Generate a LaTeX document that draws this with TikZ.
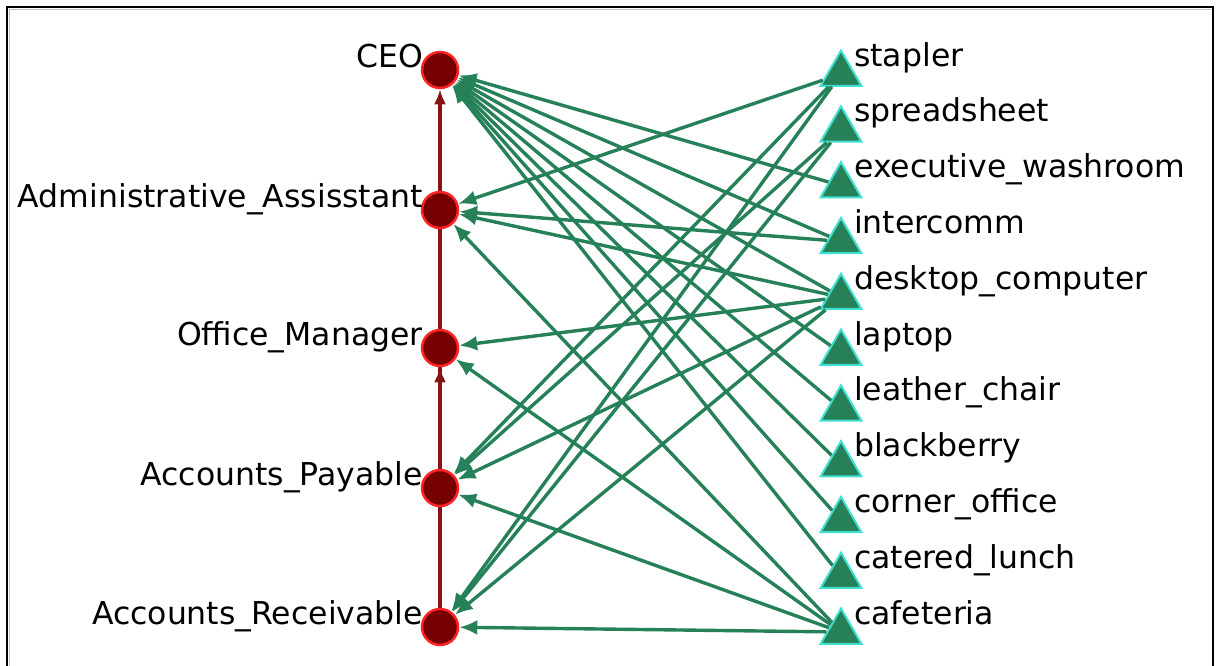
\documentclass[tikz,border=0pt]{standalone}
\usepackage{fontspec}
\setmainfont{DejaVu Sans}
\usetikzlibrary{arrows.meta, shapes.geometric, backgrounds}
\definecolor{edgegreen}{RGB}{38,128,88}
\definecolor{tricyan}{RGB}{64,224,208}
\definecolor{agentfill}{RGB}{118,0,0}
\definecolor{agentline}{RGB}{255,35,35}
\definecolor{reportred}{RGB}{135,20,20}

\begin{document}
\begin{tikzpicture}[x=1pt, y=-1pt,
    every node/.style={font=\fontsize{31.5}{36}\selectfont},
    agent/.style={circle, draw=agentline, fill=agentfill, line width=2.5pt,
                  minimum size=36pt, inner sep=0pt},
    resource/.style={regular polygon, regular polygon sides=3, draw=tricyan,
                     fill=edgegreen, line width=2pt, minimum size=47pt, inner sep=0pt},
    agentlabel/.style={anchor=base east, inner sep=0pt},
    resourcelabel/.style={anchor=base west, inner sep=0pt},
    accessedge/.style={draw=edgegreen, line width=3.4pt, -{Latex[length=18pt, width=15pt]}},
    reportedge/.style={draw=reportred, line width=3.4pt, -{Latex[length=15pt, width=12pt]}}]
  \useasboundingbox (0,0) rectangle (1216,665);
  % frame
  \draw[line width=2pt] (7,670) -- (7,7) -- (1213,7) -- (1213,670);
  \draw[gray!50, line width=1pt] (9.5,670) -- (9.5,9.5) -- (1211,9.5);
  % agents
  \node[agent] (ceo) at (440,70) {};
  \node[agent] (admin) at (440,210) {};
  \node[agent] (om) at (440,348) {};
  \node[agent] (ap) at (440,488) {};
  \node[agent] (ar) at (440,627) {};
  \node[agentlabel] (ceotext) at ([shift={(-17pt,3pt)}]ceo.center) {CEO};
  \node[agentlabel] (admintext) at ([shift={(-17pt,3pt)}]admin.center) {Administrative\_Assisstant};
  \node[agentlabel] (omtext) at ([shift={(-17pt,3pt)}]om.center) {Office\_Manager};
  \node[agentlabel] (aptext) at ([shift={(-17pt,3pt)}]ap.center) {Accounts\_Payable};
  \node[agentlabel] (artext) at ([shift={(-17pt,3pt)}]ar.center) {Accounts\_Receivable};
  % resources
  \node[resource] (stapler) at (841,74) {};
  \node[resource] (sheet) at (841,129.8) {};
  \node[resource] (washroom) at (841,185.6) {};
  \node[resource] (intercomm) at (841,241.4) {};
  \node[resource] (desktop) at (841,297.2) {};
  \node[resource] (laptop) at (841,353) {};
  \node[resource] (chair) at (841,408.8) {};
  \node[resource] (blackberry) at (841,464.6) {};
  \node[resource] (corner) at (841,520.4) {};
  \node[resource] (lunch) at (841,576.2) {};
  \node[resource] (cafeteria) at (841,632) {};
  \node[resourcelabel] (staplertext) at ([shift={(13pt,8pt)}]stapler.center) {stapler};
  \node[resourcelabel] (sheettext) at ([shift={(13pt,8pt)}]sheet.center) {spreadsheet};
  \node[resourcelabel] (washroomtext) at ([shift={(13pt,8pt)}]washroom.center) {executive\_washroom};
  \node[resourcelabel] (intercommtext) at ([shift={(13pt,8pt)}]intercomm.center) {intercomm};
  \node[resourcelabel] (desktoptext) at ([shift={(13pt,8pt)}]desktop.center) {desktop\_computer};
  \node[resourcelabel] (laptoptext) at ([shift={(13pt,8pt)}]laptop.center) {laptop};
  \node[resourcelabel] (chairtext) at ([shift={(13pt,8pt)}]chair.center) {leather\_chair};
  \node[resourcelabel] (blackberrytext) at ([shift={(13pt,8pt)}]blackberry.center) {blackberry};
  \node[resourcelabel] (cornertext) at ([shift={(13pt,8pt)}]corner.center) {corner\_office};
  \node[resourcelabel] (lunchtext) at ([shift={(13pt,8pt)}]lunch.center) {catered\_lunch};
  \node[resourcelabel] (cafeteriatext) at ([shift={(13pt,8pt)}]cafeteria.center) {cafeteria};
  % reporting lines
  \begin{scope}[on background layer]
    \draw[reportedge] (ar) -- (om);
    \draw[reportedge] (ap) -- (ceo);
  \end{scope}
  % access
  \draw[accessedge] (washroom) -- (ceo);
  \draw[accessedge] (intercomm) -- (ceo);
  \draw[accessedge] (desktop) -- (ceo);
  \draw[accessedge] (laptop) -- (ceo);
  \draw[accessedge] (chair) -- (ceo);
  \draw[accessedge] (blackberry) -- (ceo);
  \draw[accessedge] (corner) -- (ceo);
  \draw[accessedge] (lunch) -- (ceo);
  \draw[accessedge] (stapler) -- (admin);
  \draw[accessedge] (intercomm) -- (admin);
  \draw[accessedge] (desktop) -- (admin);
  \draw[accessedge] (cafeteria) -- (admin);
  \draw[accessedge] (desktop) -- (om);
  \draw[accessedge] (cafeteria) -- (om);
  \draw[accessedge] (stapler) -- (ap);
  \draw[accessedge] (sheet) -- (ap);
  \draw[accessedge] (desktop) -- (ap);
  \draw[accessedge] (cafeteria) -- (ap);
  \draw[accessedge] (stapler) -- (ar);
  \draw[accessedge] (sheet) -- (ar);
  \draw[accessedge] (desktop) -- (ar);
  \draw[accessedge] (cafeteria) -- (ar);
\end{tikzpicture}
\end{document}
